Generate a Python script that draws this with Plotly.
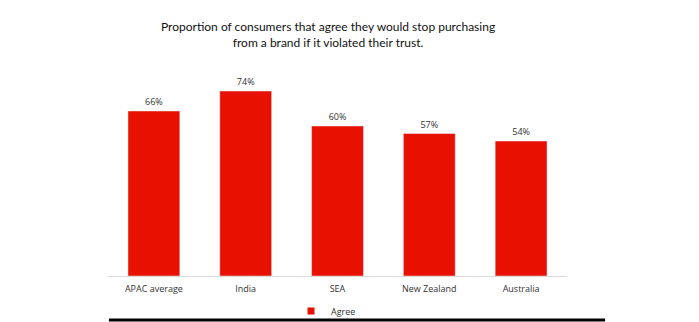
import plotly.graph_objects as go

categories = ["APAC average", "India", "SEA", "New Zealand", "Australia"]
agree = [66, 74, 60, 57, 54]
labels = ["66%", "74%", "60%", "57%", "54%"]
bar_color = "#e81000"

fig = go.Figure()
fig.add_trace(go.Bar(
    x=categories, y=agree, name="Agree", showlegend=False,
    marker=dict(color=bar_color),
    text=labels, textposition="outside",
    textfont=dict(family="Open Sans", size=9, color="#333333"),
    cliponaxis=False,
))
# legend entry with a small square swatch
fig.add_trace(go.Scatter(
    x=[None], y=[None], mode="markers", name="Agree",
    marker=dict(symbol="square", size=7, color=bar_color),
))

fig.update_layout(
    width=699, height=322,
    margin=dict(l=108, r=132, t=76, b=46, autoexpand=False),
    paper_bgcolor="white", plot_bgcolor="white",
    bargap=0.435,
    showlegend=True,
    legend=dict(orientation="h", x=0.475, y=-0.175, xanchor="center", yanchor="middle",
                bgcolor="rgba(0,0,0,0)",
                font=dict(family="Open Sans", size=9, color="#333333"),
                itemwidth=30),
    xaxis=dict(showline=True, linecolor="#d9d9d9", linewidth=1, ticks="",
               ticklabelstandoff=4,
               tickfont=dict(family="Open Sans", size=9, color="#333333")),
    yaxis=dict(range=[0, 80], visible=False, showgrid=False),
)

fig.add_annotation(
    text="Proportion of consumers that agree they would stop purchasing<br>from a brand if it violated their trust.",
    xref="paper", yref="paper", x=0.479, y=1.205, xanchor="center", yanchor="middle",
    showarrow=False, font=dict(family="Lato", size=12, color="#111111"),
)

fig.add_shape(type="line", xref="paper", yref="paper", x0=0.002, x1=1.083, y0=-0.22, y1=-0.22,
              line=dict(color="black", width=3))

fig.write_html("out.html")
